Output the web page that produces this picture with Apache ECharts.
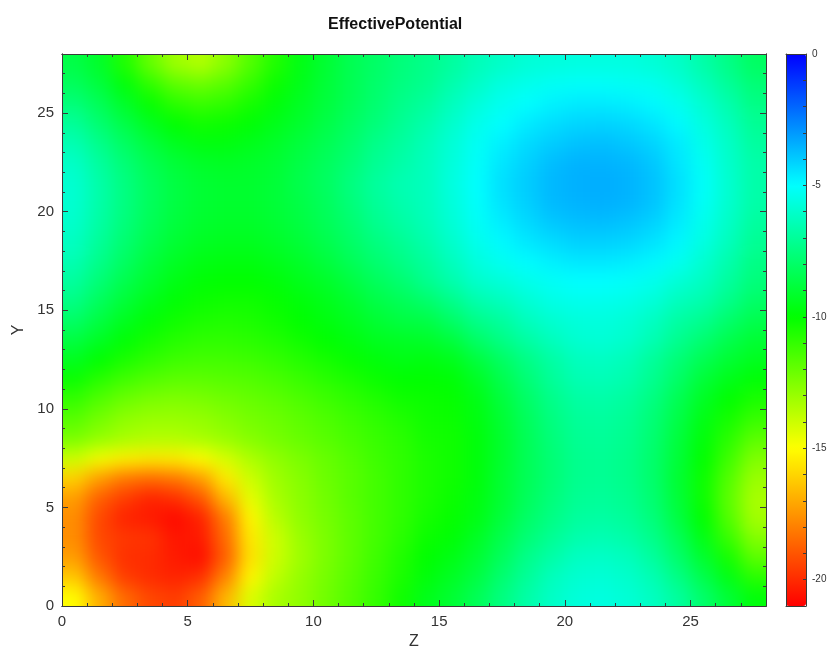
<!DOCTYPE html>
<html>
<head>
<meta charset="utf-8">
<title>EffectivePotential</title>
<script src="https://cdn.jsdelivr.net/npm/echarts@6.0.0/dist/echarts.min.js"></script>
<style>
  html, body { margin: 0; padding: 0; background: #ffffff; }
  #chart { width: 827px; height: 650px; }
</style>
</head>
<body>
<div id="chart"></div>
<script>
// cell centres along Z (x) and Y (y)
var zCenters = [0.5, 1.5, 2.5, 3.5, 4.5, 5.5, 6.5, 7.5, 8.5, 9.5, 10.5, 11.5, 12.5, 13.5,
                14.5, 15.5, 16.5, 17.5, 18.5, 19.5, 20.5, 21.5, 22.5, 23.5, 24.5, 25.5, 26.5, 27.5];
var yCenters = [0.5, 1.5, 2.5, 3.5, 4.5, 5.5, 6.5, 7.5, 8.5, 9.5, 10.5, 11.5, 12.5, 13.5,
                14.5, 15.5, 16.5, 17.5, 18.5, 19.5, 20.5, 21.5, 22.5, 23.5, 24.5, 25.5, 26.5, 27.5];

// effective potential, one row per Y (bottom row first), one value per Z
var potential = [
  [-15.0, -16.9, -18.5, -19.3, -19.6, -18.8, -16.7, -14.3, -13.3, -12.8, -12.2, -11.6, -11.0, -10.3, -9.5, -9.0, -8.3, -7.5, -6.7, -6.1, -5.7, -5.6, -5.8, -6.2, -6.9, -7.9, -8.9, -9.8],
  [-16.3, -18.2, -19.6, -20.0, -20.2, -19.9, -17.9, -15.2, -13.7, -12.9, -12.3, -11.7, -11.1, -10.5, -9.8, -9.3, -8.7, -7.8, -7.0, -6.3, -5.9, -5.8, -6.0, -6.5, -7.4, -8.5, -9.6, -10.8],
  [-17.3, -19.0, -19.9, -20.0, -20.4, -20.7, -18.8, -15.7, -14.0, -13.1, -12.4, -11.8, -11.2, -10.6, -10.0, -9.6, -9.0, -8.2, -7.3, -6.7, -6.2, -6.1, -6.3, -6.9, -7.9, -9.1, -10.4, -11.8],
  [-17.7, -19.3, -19.7, -19.8, -20.5, -20.4, -18.5, -15.5, -14.0, -13.0, -12.4, -11.8, -11.3, -10.8, -10.2, -9.9, -9.3, -8.5, -7.7, -7.1, -6.6, -6.5, -6.7, -7.3, -8.3, -9.6, -11.1, -12.6],
  [-17.7, -19.3, -20.2, -20.4, -20.8, -20.2, -18.1, -15.2, -13.6, -12.8, -12.3, -11.8, -11.3, -10.9, -10.4, -10.1, -9.6, -8.8, -8.0, -7.4, -6.9, -6.8, -7.0, -7.6, -8.7, -10.0, -11.6, -13.2],
  [-17.3, -18.8, -19.6, -20.2, -19.9, -19.0, -16.7, -14.5, -13.3, -12.7, -12.2, -11.7, -11.3, -10.9, -10.5, -10.2, -9.7, -9.0, -8.2, -7.6, -7.1, -7.0, -7.2, -7.8, -8.9, -10.2, -11.8, -13.3],
  [-16.1, -17.3, -18.2, -18.5, -18.2, -17.3, -15.5, -14.0, -13.1, -12.6, -12.1, -11.7, -11.3, -10.9, -10.5, -10.3, -9.8, -9.0, -8.3, -7.7, -7.2, -7.1, -7.3, -7.9, -9.0, -10.2, -11.6, -13.0],
  [-14.0, -14.8, -15.3, -15.5, -15.4, -15.0, -14.2, -13.4, -12.8, -12.4, -12.0, -11.6, -11.2, -10.9, -10.5, -10.3, -9.8, -9.1, -8.3, -7.7, -7.2, -7.1, -7.3, -7.9, -8.9, -10.0, -11.2, -12.5],
  [-12.4, -12.9, -13.3, -13.5, -13.5, -13.3, -13.0, -12.6, -12.3, -12.0, -11.7, -11.4, -11.1, -10.8, -10.4, -10.3, -9.8, -9.1, -8.3, -7.6, -7.1, -7.0, -7.2, -7.8, -8.8, -9.8, -10.8, -11.8],
  [-11.7, -12.3, -12.8, -13.0, -13.0, -12.9, -12.6, -12.3, -12.1, -11.8, -11.5, -11.2, -10.9, -10.6, -10.3, -10.2, -9.7, -9.0, -8.2, -7.5, -7.0, -6.9, -7.1, -7.7, -8.6, -9.6, -10.4, -11.1],
  [-11.0, -11.6, -12.1, -12.4, -12.5, -12.4, -12.2, -12.0, -11.8, -11.5, -11.2, -10.9, -10.6, -10.3, -10.2, -10.1, -9.6, -8.8, -8.0, -7.3, -6.8, -6.7, -6.9, -7.5, -8.4, -9.3, -10.0, -10.5],
  [-10.2, -10.8, -11.3, -11.6, -11.8, -11.8, -11.7, -11.6, -11.4, -11.1, -10.8, -10.5, -10.2, -10.0, -10.0, -9.9, -9.3, -8.5, -7.7, -7.0, -6.5, -6.4, -6.6, -7.2, -8.0, -8.9, -9.5, -9.9],
  [-9.4, -10.0, -10.5, -10.9, -11.2, -11.3, -11.3, -11.2, -11.0, -10.7, -10.4, -10.1, -9.8, -9.6, -9.7, -9.5, -8.8, -8.1, -7.4, -6.8, -6.3, -6.2, -6.4, -7.0, -7.7, -8.4, -9.0, -9.4],
  [-8.7, -9.3, -9.9, -10.4, -10.7, -10.9, -10.9, -10.8, -10.6, -10.3, -10.0, -9.7, -9.4, -9.3, -9.2, -8.8, -8.0, -7.4, -6.8, -6.3, -5.9, -5.8, -6.0, -6.5, -7.2, -7.8, -8.5, -9.0],
  [-8.0, -8.7, -9.4, -9.9, -10.3, -10.5, -10.6, -10.5, -10.3, -10.0, -9.7, -9.4, -9.0, -8.7, -8.6, -8.0, -7.3, -6.9, -6.3, -5.9, -5.7, -5.65, -5.8, -6.2, -6.8, -7.2, -7.9, -8.5],
  [-7.4, -8.2, -8.9, -9.5, -9.9, -10.2, -10.3, -10.3, -10.1, -9.8, -9.5, -9.1, -8.6, -8.3, -7.9, -7.3, -6.6, -6.3, -5.85, -5.5, -5.35, -5.35, -5.45, -5.75, -6.3, -6.6, -7.3, -8.0],
  [-6.9, -7.7, -8.5, -9.1, -9.6, -9.9, -10.0, -10.0, -9.8, -9.5, -9.2, -8.7, -8.2, -7.8, -7.2, -6.6, -6.0, -5.75, -5.4, -5.15, -5.0, -5.0, -5.1, -5.35, -5.8, -6.2, -6.9, -7.6],
  [-6.5, -7.3, -8.1, -8.8, -9.3, -9.6, -9.7, -9.7, -9.5, -9.2, -8.8, -8.3, -7.8, -7.4, -6.9, -6.3, -5.65, -5.25, -4.95, -4.7, -4.55, -4.55, -4.65, -4.85, -5.25, -5.9, -6.6, -7.4],
  [-6.2, -7.0, -7.8, -8.5, -9.0, -9.3, -9.4, -9.4, -9.2, -8.9, -8.5, -8.0, -7.5, -7.1, -6.6, -6.0, -5.35, -4.9, -4.55, -4.3, -4.1, -4.1, -4.2, -4.45, -4.85, -5.55, -6.3, -7.1],
  [-6.0, -6.8, -7.6, -8.3, -8.8, -9.1, -9.2, -9.2, -9.0, -8.7, -8.3, -7.8, -7.2, -6.8, -6.4, -5.8, -5.15, -4.65, -4.25, -3.9, -3.75, -3.7, -3.85, -4.1, -4.6, -5.35, -6.1, -6.9],
  [-5.9, -6.7, -7.5, -8.2, -8.7, -9.0, -9.1, -9.1, -8.9, -8.6, -8.2, -7.6, -7.0, -6.6, -6.3, -5.7, -5.05, -4.45, -4.05, -3.65, -3.5, -3.45, -3.55, -3.85, -4.45, -5.15, -5.95, -6.7],
  [-5.9, -6.7, -7.5, -8.2, -8.7, -9.0, -9.1, -9.1, -8.9, -8.5, -8.1, -7.5, -6.9, -6.5, -6.3, -5.6, -5.0, -4.4, -4.0, -3.6, -3.45, -3.4, -3.5, -3.8, -4.4, -5.1, -5.9, -6.7],
  [-6.1, -6.9, -7.7, -8.4, -8.9, -9.2, -9.3, -9.2, -9.0, -8.6, -8.2, -7.7, -7.1, -6.7, -6.3, -5.7, -5.1, -4.5, -4.1, -3.7, -3.5, -3.5, -3.6, -3.9, -4.5, -5.2, -6.0, -6.7],
  [-6.5, -7.3, -8.1, -8.8, -9.4, -9.7, -9.7, -9.5, -9.2, -8.8, -8.4, -7.9, -7.3, -6.9, -6.4, -5.8, -5.2, -4.7, -4.3, -4.0, -3.8, -3.75, -3.9, -4.15, -4.6, -5.4, -6.1, -6.9],
  [-7.0, -7.8, -8.6, -9.4, -10.0, -10.3, -10.2, -9.9, -9.5, -9.1, -8.6, -8.1, -7.6, -7.1, -6.6, -6.0, -5.4, -5.0, -4.6, -4.35, -4.2, -4.15, -4.25, -4.5, -4.9, -5.6, -6.3, -7.1],
  [-7.6, -8.3, -9.2, -10.1, -10.8, -11.1, -10.9, -10.4, -9.8, -9.3, -8.8, -8.3, -7.8, -7.3, -6.9, -6.3, -5.7, -5.3, -5.0, -4.75, -4.6, -4.6, -4.7, -4.9, -5.3, -5.9, -6.6, -7.4],
  [-8.2, -8.8, -9.8, -10.9, -11.8, -12.1, -11.7, -11.0, -10.2, -9.5, -8.9, -8.4, -7.9, -7.5, -7.2, -6.6, -6.1, -5.6, -5.4, -5.2, -5.1, -5.1, -5.2, -5.3, -5.7, -6.3, -7.0, -7.7],
  [-8.6, -9.2, -10.6, -12.0, -13.1, -13.5, -12.7, -11.6, -10.6, -9.6, -9.0, -8.4, -8.0, -7.6, -7.3, -6.9, -6.4, -6.1, -5.8, -5.7, -5.6, -5.6, -5.6, -5.8, -6.1, -6.7, -7.4, -8.1]
];

var valueMin = -21;
var valueMax = 0;

// colour stops from -21 (red) up to 0 (blue), one per unit
var barColors = [
  '#ff0000', '#ff2b00', '#ff5500', '#ff8000', '#ffaa00', '#ffd500', '#ffff00',
  '#ccff00', '#99ff00', '#66ff00', '#33ff00', '#00ff00',
  '#00ff33', '#00ff66', '#00ff99', '#00ffcc', '#00ffff',
  '#00ccff', '#0099ff', '#0066ff', '#0033ff', '#0000ff'
];

var cells = [];
for (var i = 0; i < yCenters.length; i++) {
  for (var j = 0; j < zCenters.length; j++) {
    cells.push([zCenters[j], yCenters[i], potential[i][j]]);
  }
}
var zFirst = zCenters[0], zLast = zCenters[zCenters.length - 1];
var yFirst = yCenters[0], yLast = yCenters[yCenters.length - 1];

var frameColor = '#3a3a3a';
var labelFont = 'Liberation Sans, Arial, sans-serif';

// one side of the plot frame: a line with inward ticks every `step`
function frameAxis(position, step, len, withLabels, extra) {
  var axis = {
    type: 'value',
    position: position,
    min: 0,
    max: 28,
    interval: step,
    zlevel: 1,
    z: 10,
    axisLine: { show: true, onZero: false, lineStyle: { color: frameColor, width: 1 } },
    axisTick: { show: true, inside: true, length: len, lineStyle: { color: frameColor, width: 1 } },
    axisLabel: { show: false },
    splitLine: { show: false }
  };
  if (withLabels) {
    axis.axisLabel = {
      show: true,
      showMaxLabel: false,
      color: '#333',
      fontSize: 15,
      fontFamily: labelFont,
      margin: 8
    };
  }
  if (extra) {
    for (var k in extra) axis[k] = extra[k];
  }
  return axis;
}

function barEdge(position, min, max) {
  return {
    type: 'value', gridIndex: 1, position: position, min: min, max: max, zlevel: 1, z: 10,
    axisLine: { show: true, onZero: false, lineStyle: { color: frameColor } },
    axisTick: { show: false }, axisLabel: { show: false }, splitLine: { show: false }
  };
}

var chart = echarts.init(document.getElementById('chart'));

chart.setOption({
  animation: false,
  title: {
    text: 'EffectivePotential',
    left: 323,
    top: 12,
    zlevel: 1,
    textStyle: { fontSize: 16, fontWeight: 'bold', color: '#111', fontFamily: labelFont }
  },
  grid: [
    { left: 62, top: 54, width: 704, height: 552, outerBoundsMode: 'none' },
    { left: 786, top: 54, width: 20, height: 552, outerBoundsMode: 'none' }
  ],
  xAxis: [
    frameAxis('bottom', 5, 6, true, {
      name: 'Z', nameLocation: 'middle', nameGap: 27,
      nameTextStyle: { fontSize: 16, color: '#333', fontFamily: labelFont }
    }),
    frameAxis('bottom', 1, 3, false),
    frameAxis('top', 5, 6, false),
    frameAxis('top', 1, 3, false),
    barEdge('bottom', 0, 1),
    barEdge('top', 0, 1)
  ],
  yAxis: [
    frameAxis('left', 5, 6, true, {
      name: 'Y', nameLocation: 'middle', nameGap: 33, nameRotate: 90,
      nameTextStyle: { fontSize: 16, color: '#333', fontFamily: labelFont }
    }),
    frameAxis('left', 1, 3, false),
    frameAxis('right', 5, 6, false),
    frameAxis('right', 1, 3, false),
    { type: 'value', gridIndex: 1, position: 'right', min: valueMin, max: valueMax, interval: 1,
      zlevel: 1, z: 10,
      axisLine: { show: true, onZero: false, lineStyle: { color: frameColor } },
      axisTick: { show: true, inside: true, length: 3, lineStyle: { color: frameColor } },
      axisLabel: {
        show: true, color: '#333', fontSize: 10, fontFamily: labelFont, margin: 6,
        formatter: function (v) {
          var r = Math.round(v);
          return r % 5 === 0 ? String(r) : '';
        }
      },
      splitLine: { show: false } },
    barEdge('left', valueMin, valueMax)
  ],
  visualMap: {
    type: 'continuous',
    min: valueMin,
    max: valueMax,
    dimension: 2,
    seriesIndex: 0,
    calculable: false,
    hoverLink: false,
    orient: 'vertical',
    left: 786,
    top: 54,
    padding: 0,
    itemWidth: 20,
    itemHeight: 552,
    zlevel: 1,
    inRange: { color: barColors }
  },
  series: [
    {
      type: 'custom',
      name: 'EffectivePotential',
      coordinateSystem: 'cartesian2d',
      xAxisIndex: 0,
      yAxisIndex: 0,
      silent: true,
      zlevel: 0,
      z: 2,
      data: cells,
      renderItem: function (params, api) {
        var z = api.value(0);
        var y = api.value(1);
        var z0 = z - 0.5, z1 = z + 0.5, y0 = y - 0.5, y1 = y + 0.5;
        // border cells run on past the frame so the smoothing does not fade at the edges
        if (z === zFirst) z0 -= 2;
        if (z === zLast) z1 += 2;
        if (y === yFirst) y0 -= 2;
        if (y === yLast) y1 += 2;
        var p0 = api.coord([z0, y1]);
        var p1 = api.coord([z1, y0]);
        return {
          type: 'rect',
          shape: {
            x: p0[0],
            y: p0[1],
            width: p1[0] - p0[0] + 0.6,
            height: p1[1] - p0[1] + 0.6
          },
          style: { fill: api.visual('color') }
        };
      }
    }
  ]
});

// the field layer is its own canvas: soften the cells and crop it to the frame
var layers = document.querySelectorAll('#chart canvas');
if (layers.length > 1) {
  layers[0].style.filter = 'blur(9px)';
  layers[0].style.clipPath = 'inset(54px 61px 44px 62px)';
}
</script>
</body>
</html>
